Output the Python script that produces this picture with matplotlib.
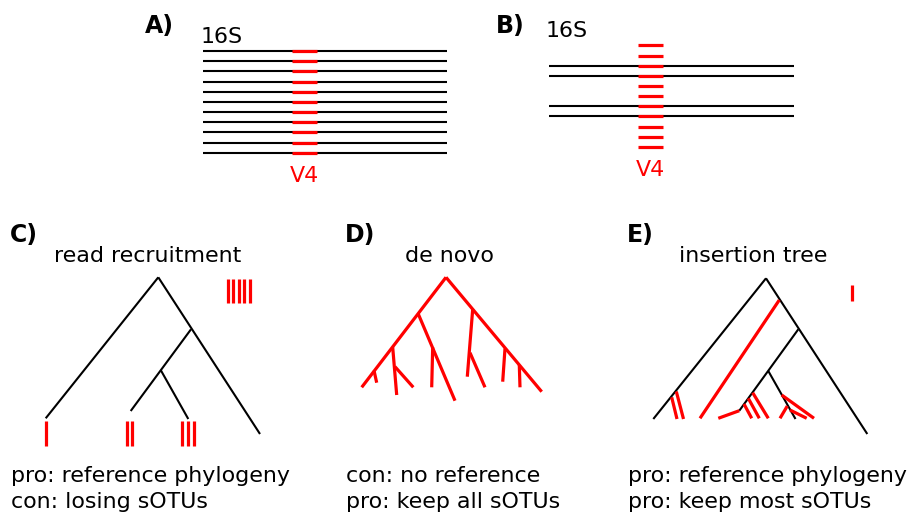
import matplotlib
matplotlib.use("Agg")
import matplotlib.pyplot as plt
import numpy as np

# ---- data (figure pixel coordinates, y grows downwards) ----
# panel A: 11 copies of 16S, all with the same V4 region
a_rows = [51, 61.2, 71.3, 81.5, 91.7, 101.8, 112, 122.2, 132.3, 142.5, 152.7]
a_gene_x = [203, 447]
a_v4_x = [292, 317]

# panel B: 4 copies of 16S, many distinct V4 reads
b_rows = [65.7, 76, 106.3, 116.3]
b_v4_rows = [45, 55.7, 65.7, 76, 86, 96.3, 106.3, 116.3, 126.7, 136.7, 146.7]
b_gene_x = [549, 794]
b_v4_x = [638, 663]

# panel C: reference tree, reads recruited to tips
c_tree = [
    [(158.3, 277.3), (45.7, 418.3)],
    [(158.3, 277.3), (260, 434)],
    [(191, 329.3), (130.7, 411)],
    [(160.7, 370), (188.3, 419)],
]
c_reads_x = [45.7, 126.7, 132.3, 182.3, 188.2, 194, 227.5, 233.2, 238.8, 244.4, 250]
c_reads_y = [(421, 445.7)] * 6 + [(279.3, 303.3)] * 5

# panel D: de novo tree from reads only
d_tree = [
    [(446, 277.3), (361.7, 387.3)],
    [(446, 277.3), (541.7, 391.7)],
    [(418.3, 314), (455, 400.7)],
    [(432.7, 347.3), (431.7, 387.3)],
    [(392.7, 347.3), (396.7, 395)],
    [(395, 366.7), (413.3, 387.3)],
    [(374, 370.5), (376.7, 382.7)],
    [(472.7, 309.3), (467.3, 376.7)],
    [(470, 352.7), (485, 387.3)],
    [(505, 348.5), (502.7, 381.7)],
    [(519.3, 365), (520, 387.3)],
]

# panel E: reference tree with inserted fragments
e_tree = [
    [(766, 278.3), (653.3, 419)],
    [(766, 278.3), (867.3, 434)],
    [(798.3, 329.3), (739.3, 410.7)],
    [(768.3, 371), (795.5, 419)],
]
e_inserts = [
    [(779.3, 300), (700, 418.3)],
    [(671.7, 397.3), (677, 419)],
    [(676.3, 391.5), (683.5, 419)],
    [(739.3, 410.7), (718.3, 418.3)],
    [(744, 404), (751.7, 418.3)],
    [(748.3, 398.3), (759.3, 418.3)],
    [(752.7, 392.7), (768.3, 418.3)],
    [(781.7, 395), (814, 418.3)],
    [(790, 410), (806.7, 418.3)],
    [(787.3, 406), (780, 418.3)],
    [(852.3, 285), (852.3, 300.7)],
]

RED = "#ff0000"
BLK = "black"
FS = 15.9
FS_LAB = 17
LW_B = 1.5
LW_R = 2.3

fig = plt.figure(figsize=(9.07, 5.13), dpi=100)
ax = fig.add_axes([0, 0, 1, 1])
ax.set_xlim(0, 907)
ax.set_ylim(513, 0)
ax.axis("off")


def segs(lines, color, lw):
    for (x0, y0), (x1, y1) in lines:
        ax.plot([x0, x1], [y0, y1], color=color, lw=lw, solid_capstyle="butt")


# A)
for y in a_rows:
    ax.plot(a_gene_x, [y, y], color=BLK, lw=LW_B, solid_capstyle="butt")
    ax.plot(a_v4_x, [y, y], color=RED, lw=LW_R, solid_capstyle="butt")
ax.text(145, 33.3, "A)", fontsize=FS_LAB, fontweight="bold", va="baseline")
ax.text(201, 42.7, "16S", fontsize=FS, va="baseline")
ax.text(304.5, 181.7, "V4", fontsize=FS, color=RED, ha="center", va="baseline")

# B)
for y in b_rows:
    ax.plot(b_gene_x, [y, y], color=BLK, lw=LW_B, solid_capstyle="butt")
for y in b_v4_rows:
    ax.plot(b_v4_x, [y, y], color=RED, lw=LW_R, solid_capstyle="butt")
ax.text(496, 33.3, "B)", fontsize=FS_LAB, fontweight="bold", va="baseline")
ax.text(546, 36.7, "16S", fontsize=FS, va="baseline")
ax.text(650.5, 175.7, "V4", fontsize=FS, color=RED, ha="center", va="baseline")

# C)
segs(c_tree, BLK, LW_B)
for x, (y0, y1) in zip(c_reads_x, c_reads_y):
    ax.plot([x, x], [y0, y1], color=RED, lw=LW_R, solid_capstyle="butt")
ax.text(10, 241.7, "C)", fontsize=FS_LAB, fontweight="bold", va="baseline")
ax.text(148, 261.7, "read recruitment", fontsize=FS, ha="center", va="baseline")
ax.text(11, 481.7, "pro: reference phylogeny", fontsize=FS, va="baseline")
ax.text(11, 508.3, "con: losing sOTUs", fontsize=FS, va="baseline")

# D)
segs(d_tree, RED, LW_R)
ax.text(345, 241.7, "D)", fontsize=FS_LAB, fontweight="bold", va="baseline")
ax.text(449, 261.7, "de novo", fontsize=FS, ha="center", va="baseline")
ax.text(346, 481.7, "con: no reference", fontsize=FS, va="baseline")
ax.text(346, 508.3, "pro: keep all sOTUs", fontsize=FS, va="baseline")

# E)
segs(e_tree, BLK, LW_B)
segs(e_inserts, RED, LW_R)
ax.text(627, 241.7, "E)", fontsize=FS_LAB, fontweight="bold", va="baseline")
ax.text(753.5, 261.7, "insertion tree", fontsize=FS, ha="center", va="baseline")
ax.text(628, 481.7, "pro: reference phylogeny", fontsize=FS, va="baseline")
ax.text(628, 508.3, "pro: keep most sOTUs", fontsize=FS, va="baseline")

fig.savefig("out.png", dpi=100)
